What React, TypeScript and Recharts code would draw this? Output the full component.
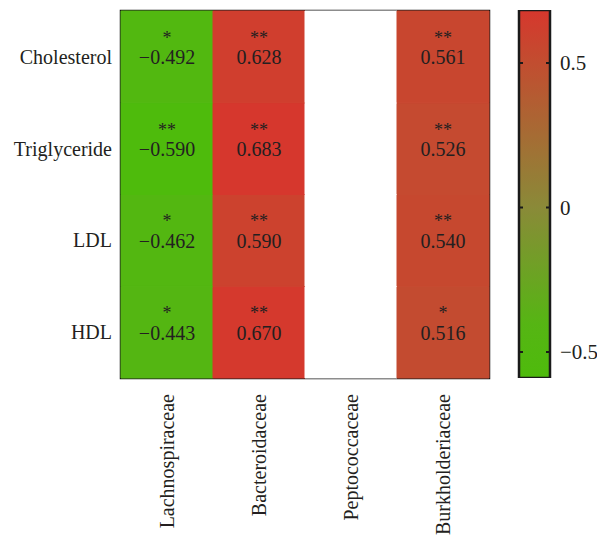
import React from 'react';
import { BarChart, Bar, Cell, XAxis, YAxis, LabelList, ReferenceArea, ReferenceLine } from 'recharts';

const families = ['Lachnospiraceae', 'Bacteroidaceae', 'Peptococcaceae', 'Burkholderiaceae'];
const indices = ['Cholesterol', 'Triglyceride', 'LDL', 'HDL'];

// correlation coefficients per index (null = not significant / not shown)
const rCholesterol = [-0.492, 0.628, null, 0.561];
const rTriglyceride = [-0.59, 0.683, null, 0.526];
const rLDL = [-0.462, 0.59, null, 0.54];
const rHDL = [-0.443, 0.67, null, 0.516];

const sigCholesterol = ['*', '**', '', '**'];
const sigTriglyceride = ['**', '**', '', '**'];
const sigLDL = ['*', '**', '', '**'];
const sigHDL = ['*', '**', '', '*'];

const colorbarTicks = [-0.5, 0, 0.5];

const FONT = '"Liberation Serif", "Times New Roman", serif';
const TEXT = '#231f20';
const BORDER = '#1a1a1a';

const rows = [
  { name: indices[0], r: rCholesterol, sig: sigCholesterol },
  { name: indices[1], r: rTriglyceride, sig: sigTriglyceride },
  { name: indices[2], r: rLDL, sig: sigLDL },
  { name: indices[3], r: rHDL, sig: sigHDL },
];

const allValues = rows.flatMap((row) => row.r).filter((v): v is number => v != null);
const cbMin = Math.min(...allValues);
const cbMax = Math.max(...allValues);

// colour stops: green saturates early on the negative side, olive at 0, red at the top
const STOPS: [number, number[]][] = [
  [cbMin, [78, 187, 12]],
  [-0.4, [86, 181, 20]],
  [0, [138, 138, 56]],
  [cbMax, [214, 55, 45]],
];

const cellColor = (v: number | null) => {
  if (v == null) return '#ffffff';
  for (let i = 0; i < STOPS.length - 1; i++) {
    const [v0, c0] = STOPS[i];
    const [v1, c1] = STOPS[i + 1];
    if (v <= v1 || i === STOPS.length - 2) {
      const t = Math.max(0, Math.min(1, (v - v0) / (v1 - v0)));
      return `rgb(${c0.map((c, j) => Math.round(c + (c1[j] - c) * t)).join(',')})`;
    }
  }
  return '#ffffff';
};

const fmt = (v: number | null) => (v == null ? '' : (v < 0 ? '\u2212' : '') + Math.abs(v).toFixed(3));

const table = families.map((family, i) => {
  const o: Record<string, any> = { family };
  rows.forEach((row, k) => {
    o[`u${k}`] = 1;
    o[`l${k}`] = `${row.sig[i]}|${fmt(row.r[i])}`;
  });
  return o;
});

const CellLabel = (props: any) => {
  const vb = props.viewBox || props;
  const text = String(props.value ?? '');
  const [sig, num] = text.split('|');
  if (!num) return null;
  const cx = vb.x + vb.width / 2;
  const cy = vb.y + vb.height / 2;
  return (
    <g fontFamily={FONT} fill={TEXT} textAnchor="middle">
      <text x={cx} y={cy - 13} fontSize={18}>{sig}</text>
      <text x={cx} y={cy + 7.5} fontSize={20}>{num}</text>
    </g>
  );
};

const FamilyTick = (props: any) => {
  const { x, y, payload } = props;
  return (
    <text
      transform={`translate(${x},${y}) rotate(-90)`}
      textAnchor="end"
      dy="0.35em"
      fontFamily={FONT}
      fontSize={20}
      fill={TEXT}
    >
      {payload.value}
    </text>
  );
};

const fmtTick = (v: number) => (v === 0 ? '0' : (v < 0 ? '\u2212' : '') + Math.abs(v).toString());

export default function App() {
  // stack bottom-up: HDL first, Cholesterol on top
  const order = [3, 2, 1, 0];
  const gradStops = [...STOPS].reverse();
  return (
    <div style={{ position: 'absolute', left: 0, top: 0, width: 597, height: 545, background: '#fff' }}>
      <div style={{ position: 'absolute', left: 0, top: 0 }}>
        <BarChart
          width={500}
          height={545}
          data={table}
          margin={{ top: 11, right: 11, bottom: 0, left: 0 }}
          barCategoryGap={0}
          style={{ fontFamily: FONT }}
        >
          <XAxis
            dataKey="family"
            height={167}
            axisLine={false}
            tickLine={false}
            tickSize={0}
            tickMargin={16}
            interval={0}
            tick={<FamilyTick />}
          />
          <YAxis
            type="number"
            domain={[0, 4]}
            ticks={[0.5, 1.5, 2.5, 3.5]}
            tickFormatter={(v: number) => indices[3 - Math.floor(v)]}
            width={121}
            axisLine={false}
            tickLine={false}
            tickSize={0}
            tickMargin={9}
            tick={{ fill: TEXT, fontSize: 20, fontFamily: FONT }}
          />
          {order.map((k) => (
            <Bar key={k} dataKey={`u${k}`} stackId="a" isAnimationActive={false}>
              {families.map((f, i) => {
                const c = cellColor(rows[k].r[i]);
                return <Cell key={f} fill={c} stroke={c} strokeWidth={1} />;
              })}
              <LabelList dataKey={`l${k}`} content={<CellLabel />} />
            </Bar>
          ))}
          <ReferenceArea y1={0} y2={4} fill="none" fillOpacity={0} stroke={BORDER} strokeWidth={2.5} ifOverflow="visible" />
        </BarChart>
      </div>
      <div style={{ position: 'absolute', left: 500, top: 0 }}>
        <BarChart
          width={97}
          height={545}
          data={[{ name: 'scale', range: [cbMin, cbMax] }]}
          margin={{ top: 10, right: 0, bottom: 167, left: 19 }}
          barCategoryGap={0}
          style={{ fontFamily: FONT }}
        >
          <defs>
            <linearGradient id="cbGrad" x1="0" y1="0" x2="0" y2="1">
              {gradStops.map(([v, c]) => (
                <stop key={v} offset={(cbMax - v) / (cbMax - cbMin)} stopColor={`rgb(${c.join(',')})`} />
              ))}
            </linearGradient>
          </defs>
          <XAxis dataKey="name" hide />
          <YAxis
            orientation="right"
            type="number"
            domain={[cbMin, cbMax]}
            ticks={colorbarTicks}
            allowDataOverflow
            width={47}
            axisLine={false}
            tickLine={false}
            tickSize={0}
            tickMargin={10}
            tickFormatter={fmtTick}
            tick={{ fill: TEXT, fontSize: 21, fontFamily: FONT, textAnchor: 'start' }}
          />
          <Bar dataKey="range" fill="url(#cbGrad)" stroke={BORDER} strokeWidth={2.5} isAnimationActive={false} />
          {colorbarTicks.map((t) => (
            <ReferenceLine key={t} y={t} stroke={BORDER} strokeWidth={2} strokeDasharray="4 23 4 100" />
          ))}
        </BarChart>
      </div>
    </div>
  );
}
